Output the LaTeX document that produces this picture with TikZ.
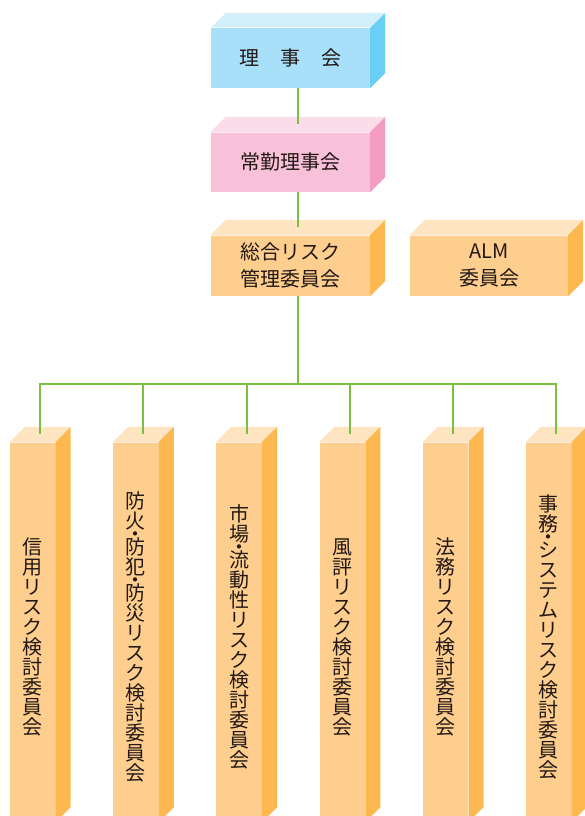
\documentclass[tikz,border=0pt]{standalone}
\usepackage{fontspec}
\newfontfamily\jp{Noto Sans CJK JP}
\definecolor{bfront}{HTML}{A7E0F8}
\definecolor{btop}{HTML}{D3EFFB}
\definecolor{bside}{HTML}{6ACFF6}
\definecolor{pfront}{HTML}{F8C1D9}
\definecolor{ptop}{HTML}{FBDDEA}
\definecolor{pside}{HTML}{F49CC2}
\definecolor{ofront}{HTML}{FDCE8D}
\definecolor{otop}{HTML}{FEE4C1}
\definecolor{oside}{HTML}{FDB84F}
\definecolor{lgreen}{HTML}{7AC143}
\definecolor{txt}{HTML}{231815}
\newcommand\vfontsel{\jp\fontsize{20}{20}\selectfont}
\newcommand\cubefaces[3]{%
  \fill[#2] (#1.north west) -- ([shift={(15pt,15pt)}]#1.north west) -- ([shift={(15pt,15pt)}]#1.north east) -- (#1.north east) -- cycle;
  \fill[#3] (#1.north east) -- ([shift={(15pt,15pt)}]#1.north east) -- ([shift={(15pt,15pt)}]#1.south east) -- (#1.south east) -- cycle;
  \draw[white, opacity=.7, line width=.6pt] (#1.north west) -- (#1.north east);
}
\newcommand\riskcol[3]{%
  \node[face, fill=ofront, minimum width=45.5pt, minimum height=380pt] (c#1) at ({#2+22.75},632) {};
  \cubefaces{c#1}{otop}{oside}
  \node[vtext] (t#1) at ({#2+22.75},637) {#3};
  \coordinate (c#1T) at ([xshift=7.5pt,yshift=7.5pt]c#1.north);
}
\begin{document}
\begin{tikzpicture}[x=1pt,y=-1pt,
  face/.style={draw=none, inner sep=0pt, text=txt, align=center,
    font=\jp\fontsize{20}{27}\selectfont},
  vtext/.style={inner sep=0pt, text=txt, align=center, font=\vfontsel},
  conn/.style={draw=lgreen, line width=2pt}]
\useasboundingbox (0,0) rectangle (585,816);
\clip (0,0) rectangle (585,816);

% top boxes
\node[face, fill=bfront, minimum width=159pt, minimum height=60pt] (rj) at (290.5,58) {理\hspace{21pt}事\hspace{21pt}会};
\cubefaces{rj}{btop}{bside}
\node[face, fill=pfront, minimum width=159pt, minimum height=60pt] (jk) at (290.5,162) {常勤理事会};
\cubefaces{jk}{ptop}{pside}
\node[face, fill=ofront, minimum width=159pt, minimum height=61pt] (sg) at (290.5,265.5) {総合リスク\\管理委員会};
\cubefaces{sg}{otop}{oside}
\node[face, fill=ofront, minimum width=158pt, minimum height=61pt] (alm) at (489,265.5) {ALM\\委員会};
\cubefaces{alm}{otop}{oside}

% columns
\riskcol{1}{10}{信\\用\\リ\\ス\\ク\\検\\討\\委\\員\\会}
\riskcol{2}{113.2}{防\\火\\[-7pt]・\\[-7pt]防\\犯\\[-7pt]・\\[-7pt]防\\災\\リ\\ス\\ク\\検\\討\\委\\員\\会}
\riskcol{3}{216.4}{市\\場\\[-7pt]・\\[-7pt]流\\動\\性\\リ\\ス\\ク\\検\\討\\委\\員\\会}
\riskcol{4}{319.6}{風\\評\\リ\\ス\\ク\\検\\討\\委\\員\\会}
\riskcol{5}{422.8}{法\\務\\リ\\ス\\ク\\検\\討\\委\\員\\会}
\riskcol{6}{526}{事\\務\\[-7pt]・\\[-7pt]シ\\ス\\テ\\ム\\リ\\ス\\ク\\検\\討\\委\\員\\会}

% connectors
\coordinate (rjB) at ([xshift=7.5pt]rj.south);
\coordinate (jkT) at ([xshift=7.5pt,yshift=7.5pt]jk.north);
\coordinate (jkB) at ([xshift=7.5pt]jk.south);
\coordinate (sgT) at ([xshift=7.5pt,yshift=7.5pt]sg.north);
\coordinate (sgB) at ([xshift=7.5pt]sg.south);
\coordinate (bus) at (0,384);
\draw[conn] (rjB) -- (jkT);
\draw[conn] (jkB) -- (sgT);
\foreach \i in {1,...,6}{
  \draw[conn] (sgB) -- (sgB |- bus) -| (c\i T);
}
\end{tikzpicture}
\end{document}
